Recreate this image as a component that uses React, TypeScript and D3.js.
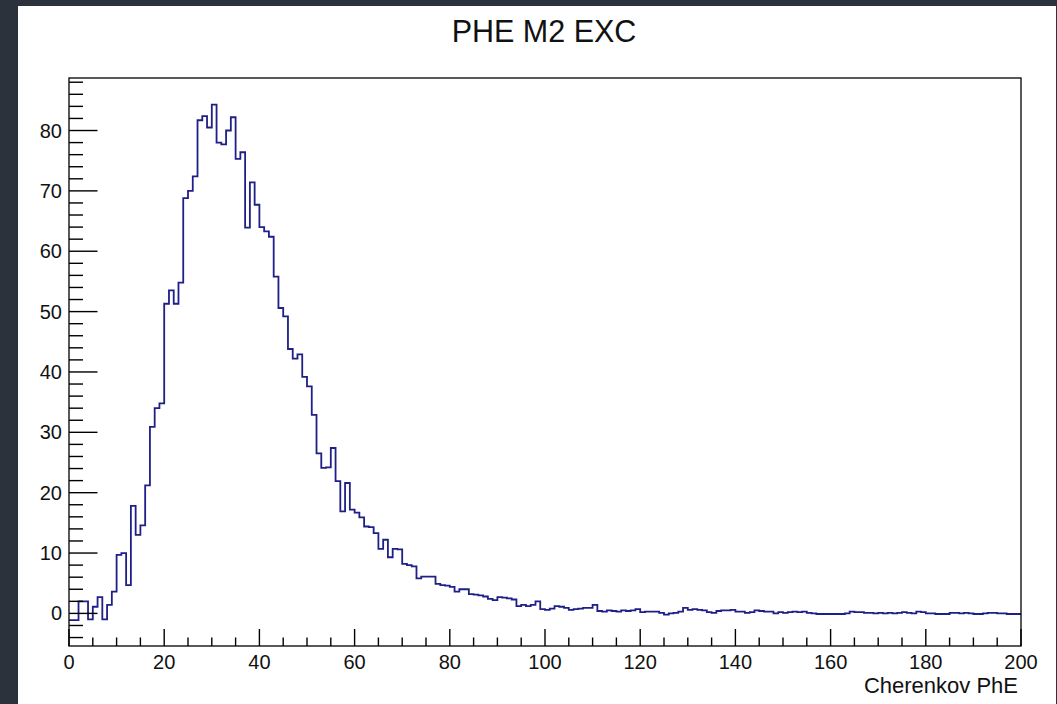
import React from 'react';
import * as d3 from 'd3';

const chartTitle = 'PHE M2 EXC';
const xAxisTitle = 'Cherenkov PhE';
const xDomain: [number, number] = [0, 200];
const yDomain: [number, number] = [-5.4, 88.7];
const xMajorTicks = [0, 20, 40, 60, 80, 100, 120, 140, 160, 180, 200];
const yMajorTicks = [0, 10, 20, 30, 40, 50, 60, 70, 80];

// 200 bins of width 1 (0..200)
const binValues = [
  -1.1, -1.1, 2.0, 2.0, -1.0, 1.1, 2.7, -1.0, 1.4, 3.6,
  9.7, 10.0, 4.7, 17.8, 13.0, 14.6, 21.2, 30.9, 34.0, 34.8,
  51.3, 53.5, 51.3, 54.8, 68.8, 70.0, 72.4, 81.7, 82.4, 80.5,
  84.3, 78.0, 77.7, 80.0, 82.2, 75.3, 76.4, 63.9, 71.4, 67.7,
  64.0, 63.3, 62.4, 55.8, 50.6, 49.2, 43.8, 42.2, 42.9, 39.2,
  37.6, 32.9, 26.5, 24.1, 24.2, 27.4, 21.9, 16.9, 21.6, 17.2,
  16.7, 15.9, 14.4, 14.3, 13.3, 10.7, 12.2, 9.3, 10.7, 10.6,
  8.2, 8.0, 7.8, 5.8, 6.1, 6.1, 6.1, 4.9, 4.7, 4.6,
  4.4, 3.6, 4.0, 4.0, 3.2, 3.1, 3.0, 2.8, 2.4, 2.2,
  2.7, 2.6, 2.5, 2.3, 1.2, 1.4, 1.2, 1.4, 2.0, 0.7,
  0.6, 0.8, 1.2, 1.1, 0.9, 0.6, 0.7, 0.8, 0.9, 0.9,
  1.4, 0.4, 0.3, 0.5, 0.4, 0.3, 0.5, 0.4, 0.5, 0.7,
  0.2, 0.3, 0.3, 0.3, 0.1, -0.2, 0.0, 0.1, 0.3, 0.9,
  0.6, 0.7, 0.6, 0.5, 0.2, 0.1, 0.4, 0.5, 0.5, 0.6,
  0.3, 0.3, 0.1, 0.2, 0.5, 0.4, 0.3, 0.3, 0.0, 0.2,
  0.1, 0.2, 0.3, 0.2, 0.3, 0.1, 0.0, -0.1, -0.1, -0.1,
  -0.1, -0.1, -0.1, 0.0, 0.3, 0.2, 0.2, 0.1, 0.1, 0.0,
  0.1, 0.0, 0.1, 0.0, 0.1, 0.2, 0.1, 0.0, 0.3, 0.2,
  0.0, 0.0, -0.1, -0.1, -0.1, 0.1, 0.1, 0.0, 0.1, 0.0,
  -0.1, -0.1, 0.0, 0.1, 0.1, 0.0, 0.0, -0.1, -0.1, -0.1,
];

const W = 1057;
const H = 704;
const FONT = '"Liberation Sans", Arial, Helvetica, sans-serif';

export default function App() {
  const left = 69, right = 1021, top = 78, bottom = 646;
  const x = d3.scaleLinear().domain(xDomain).range([left, right]);
  const y = d3.scaleLinear().domain(yDomain).range([bottom, top]);
  const binWidth = (xDomain[1] - xDomain[0]) / binValues.length;

  let d = '';
  binValues.forEach((v, i) => {
    const x0 = x(xDomain[0] + i * binWidth);
    const x1 = x(xDomain[0] + (i + 1) * binWidth);
    const yy = y(v);
    d += (i === 0 ? `M${x0},${yy}` : `V${yy}`) + `H${x1}`;
  });

  const xMinor = d3.range(0, 201, 5).filter((t) => t % 20 !== 0);
  const yMinor = d3.range(-4, 89, 2).filter((t) => t % 10 !== 0);

  const xMajLen = 17, xMinLen = 8.5;
  const yMajLen = 28.5, yMinLen = 14;

  return (
    <div style={{ position: 'fixed', left: 0, top: 0, width: W, height: H }}>
      <svg width={W} height={H} style={{ display: 'block' }}>
        <rect x={0} y={0} width={W} height={H} fill="#2b323b" />
        <rect x={18} y={6} width={1038} height={698} fill="#ffffff" />
        <text x={544} y={42} textAnchor="middle" fontFamily={FONT} fontSize={30.5} fill="#111">
          {chartTitle}
        </text>
        {/* histogram */}
        <path d={d} fill="none" stroke="#1f1f88" strokeWidth={1.8} strokeLinejoin="miter" />
        {/* frame */}
        <rect x={left} y={top} width={right - left} height={bottom - top} fill="none" stroke="#000" strokeWidth={1.3} />
        {/* x ticks */}
        {xMajorTicks.map((t) => (
          <line key={'xM' + t} x1={x(t)} x2={x(t)} y1={bottom} y2={bottom - xMajLen} stroke="#000" strokeWidth={1.4} />
        ))}
        {xMinor.map((t) => (
          <line key={'xm' + t} x1={x(t)} x2={x(t)} y1={bottom} y2={bottom - xMinLen} stroke="#000" strokeWidth={1.4} />
        ))}
        {xMajorTicks.map((t) => (
          <text key={'xl' + t} x={x(t)} y={668.5} textAnchor="middle" fontFamily={FONT} fontSize={20} fill="#111">
            {t}
          </text>
        ))}
        {/* y ticks */}
        {yMajorTicks.map((t) => (
          <line key={'yM' + t} x1={left} x2={left + yMajLen} y1={y(t)} y2={y(t)} stroke="#000" strokeWidth={1.4} />
        ))}
        {yMinor.map((t) => (
          <line key={'ym' + t} x1={left} x2={left + yMinLen} y1={y(t)} y2={y(t)} stroke="#000" strokeWidth={1.4} />
        ))}
        {yMajorTicks.map((t) => (
          <text key={'yl' + t} x={62} y={y(t) + 7} textAnchor="end" fontFamily={FONT} fontSize={20} fill="#111">
            {t}
          </text>
        ))}
        <text x={1018} y={693} textAnchor="end" fontFamily={FONT} fontSize={22} fill="#111">
          {xAxisTitle}
        </text>
      </svg>
    </div>
  );
}
